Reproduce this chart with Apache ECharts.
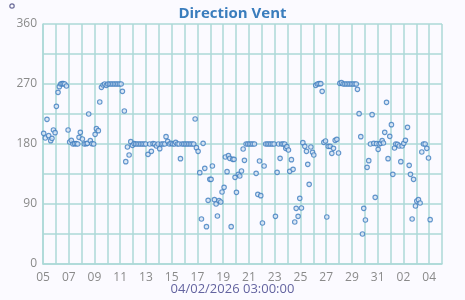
<!DOCTYPE html>
<html><head><meta charset="utf-8">
<script src="https://cdn.jsdelivr.net/npm/echarts@6/dist/echarts.min.js"></script>
<style>html,body{margin:0;padding:0;background:#fbfaff;}#c{width:465px;height:300px;}</style>
</head><body><div id="c"></div>
<script>
const titleText = "Direction Vent";
const footerText = "04/02/2026 03:00:00";
const startDate = Date.UTC(2026, 0, 5);
const endDate = Date.UTC(2026, 1, 5);
const yTicks = [0, 90, 180, 270, 360];
const dayOffsets = [
0.05,0.18,0.31,0.44,0.6,0.7,0.81,0.94,1.04,1.17,1.27,1.38,1.48,1.58,1.69,1.82,1.95,2.07,2.2,2.33,2.46,2.59,2.7,2.8,2.9,3.06,3.21,3.35,3.45,3.55,3.68,3.81,3.94,4.05,4.15,4.3,4.41,4.54,4.67,4.79,4.92,5.03,
5.16,5.29,5.42,5.55,5.68,5.81,5.94,6.07,
6.17,6.32,6.43,6.56,6.69,6.82,6.95,7.08,
7.2,7.33,7.46,7.59,7.72,7.85,7.98,
8.16,8.29,8.42,8.55,8.68,8.81,8.94,9.07,9.2,9.33,9.46,9.56,9.69,9.82,9.95,10.08,10.21,10.31,10.44,10.57,10.68,
10.8,10.93,11.06,11.19,11.32,11.45,11.58,11.71,
11.82,11.92,12.05,12.18,12.31,12.44,12.57,12.7,12.83,12.96,13.06,13.16,13.32,13.45,13.55,13.68,13.81,13.91,14.07,14.17,14.3,14.41,14.51,14.62,14.74,14.84,14.92,15.03,15.18,15.29,15.42,15.55,15.65,
15.78,15.91,16.04,16.17,16.3,16.43,
16.56,16.69,16.82,16.92,17.05,17.18,
17.3,17.43,17.56,17.69,17.82,17.95,
18.06,18.19,18.3,18.42,18.54,18.66,18.78,18.86,18.95,19.07,19.17,19.3,19.43,19.56,19.67,19.82,19.95,20.08,20.19,20.34,20.47,20.57,20.68,20.81,20.94,21.04,21.19,21.32,21.45,21.58,21.69,21.82,21.95,22.05,22.16,22.31,22.44,22.57,22.7,22.83,22.96,23.06,23.19,
23.32,23.45,23.58,23.71,23.84,23.97,24.1,24.23,24.34,
24.43,24.56,24.69,24.82,24.92,25.05,25.18,25.31,25.44,25.57,25.7,25.81,25.91,26.04,26.12,26.24,26.35,26.45,26.55,26.69,26.81,26.94,27.07,27.18,27.31,27.41,27.54,27.67,27.8,27.9,28.03,28.16,28.32,28.45,28.55,28.68,28.79,28.94,29.04,29.17,29.3,29.43,29.56,29.69,29.82,29.95,30.08
];
const directions = [
196,189,217,192.5,185,188.5,201,197,236.5,257.5,266,270,270.5,270.5,270,267,201,183,185.5,180,180.5,180.5,180,190,197.5,187.5,180,180.5,181,225,185,180.5,180,194.5,203,200,243,265,268.5,270,268,270,
270,270,270,270,270,270,270,270,
259,229.5,153.5,175.5,163.5,183.5,178,180.5,
180,180,180,180,180,180,180,
164.5,180,169,180.5,180,177,180,173,180,180,180,191,184,180,181,180,180,182.5,180,180,158,
180,180,180,180,180,180,180,180,
217.5,174.5,169,137,67.5,181,143.5,56,95.5,127,127,147,96.5,90,72,95,93,108,115,160.5,138.5,162.5,158.5,56,157,157,130,107.5,134.5,132,139.5,172.5,155.5,
180,180,180,180,180,180,
136,104.5,154.5,102.5,61.5,147,
180,180,180,180,180,180,
71.5,137.5,180,158.5,180,180,180,173.5,176,171,139,156.5,142,63,83.5,71.5,98.5,84,182,176.5,169,149.5,119.5,175.5,167.5,163.5,268,270,270.5,270.5,259,182.5,184.5,70.5,176.5,176.5,166,173.5,185.5,187,166.5,271,272,
270,270,270,270,270,270,270,270,270,
262,225.5,191,45,83.5,66,145,155,180,224,181,100,180.5,172,180,181,185,181.5,197.5,242.5,158,191.5,209,134.5,174,180,179.5,177,153.5,177,181,185.5,205,148,134.5,67.5,127,87,94.5,96.5,91.5,168,180,180,173.5,159,66.5
];
const DAY = 86400000;
const points = dayOffsets.map((d, i) => [startDate + d * DAY, directions[i]]);
const gridColor = '#acd9d7';
const chart = echarts.init(document.getElementById('c'), null, {renderer: 'canvas'});
chart.setOption({
  backgroundColor: '#fbfaff',
  animation: false,
  title: [
    {text: titleText, left: 'center', top: 1, textStyle: {fontFamily: 'Open Sans', fontSize: 15, fontWeight: 'bold', color: '#3a7dbd'}},
    {text: footerText, left: 'center', top: 283, padding: 0, textStyle: {fontFamily: 'Open Sans', fontSize: 13, fontWeight: 'normal', color: '#6464a0'}}
  ],
  graphic: [{type: 'circle', shape: {cx: 12, cy: 6, r: 2.2}, style: {fill: 'none', stroke: '#6b6b99', lineWidth: 1.2}}],
  grid: {left: 43, right: 23, top: 24, bottom: 36},
  xAxis: {
    type: 'value', min: startDate, max: endDate, interval: DAY,
    axisLine: {show: true, lineStyle: {color: gridColor, width: 1.5}},
    axisTick: {show: false},
    splitLine: {show: true, lineStyle: {color: gridColor, width: 1.5}},
    axisLabel: {
      fontFamily: 'Open Sans', fontSize: 12, color: '#8a8a8a', margin: 8,
      showMaxLabel: false,
      formatter: function (v) {
        const k = Math.round((v - startDate) / DAY);
        if (k % 2 !== 0) return '';
        const d = new Date(v).getUTCDate();
        return (d < 10 ? '0' : '') + d;
      }
    }
  },
  yAxis: {
    type: 'value', min: 0, max: 360, interval: 45,
    axisLine: {show: true, lineStyle: {color: gridColor, width: 1.5}},
    axisTick: {show: false},
    splitLine: {show: true, lineStyle: {color: gridColor, width: 1.5}},
    axisLabel: {
      fontFamily: 'Open Sans', fontSize: 12, color: '#8a8a8a', margin: 6,
      formatter: function (v) { return yTicks.indexOf(v) >= 0 ? String(v) : ''; }
    }
  },
  series: [{
    type: 'scatter', data: points, symbol: 'circle', symbolSize: 4.5,
    itemStyle: {color: '#d6e4f4', borderColor: '#3f7dbf', borderWidth: 1.1}
  }]
});
</script></body></html>
